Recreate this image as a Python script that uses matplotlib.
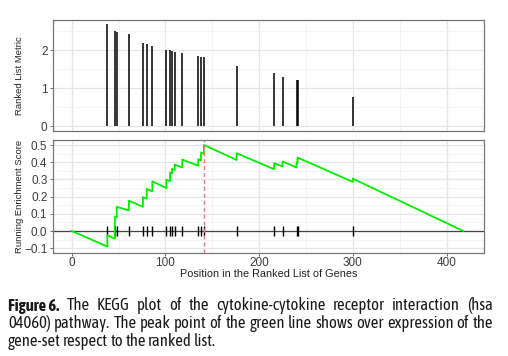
import numpy as np
import matplotlib
matplotlib.use("Agg")
import matplotlib.pyplot as plt
from matplotlib import font_manager
from matplotlib.ticker import MultipleLocator

# gene-set hits along the ranked list
hit_rank = [38, 46, 48, 61, 76, 80, 86, 101, 105, 107, 110, 118,
            135, 138, 141, 176, 216, 225, 240, 241, 300]
hit_metric = [2.68, 2.51, 2.47, 2.42, 2.19, 2.16, 2.10, 2.01, 1.99, 1.98, 1.96, 1.93,
              1.83, 1.82, 1.81, 1.58, 1.39, 1.30, 1.21, 1.20, 0.77]
# running enrichment score just before / after each hit
es_before = [-0.090, -0.044, 0.078, 0.120, 0.141, 0.188, 0.231, 0.250, 0.290, 0.336, 0.355, 0.370,
             0.380, 0.411, 0.450, 0.414, 0.360, 0.376, 0.370, 0.398, 0.286]
es_after = [-0.025, 0.083, 0.141, 0.177, 0.197, 0.245, 0.289, 0.299, 0.341, 0.362, 0.387, 0.416,
            0.418, 0.457, 0.501, 0.453, 0.395, 0.405, 0.400, 0.428, 0.305]
n_genes = 418
peak_rank = 141

cap_bold = "Figure 6."
cap_lines = [
    "The KEGG plot of the cytokine-cytokine receptor interaction (hsa",
    "04060) pathway. The peak point of the green line shows over expression of the",
    "gene-set respect to the ranked list.",
]

# condensed sans for the caption
names = {f.name for f in font_manager.fontManager.ttflist}
cap_props = dict(family=["DejaVu Sans"], stretch="condensed")
for fam in ["Asap Condensed", "Archivo Narrow"]:
    if fam in names:
        cap_props = dict(family=[fam, "DejaVu Sans"], stretch="condensed")
        break
plt.rcParams["font.family"] = ["Liberation Sans", "DejaVu Sans"]

W, H = 508, 356
fig = plt.figure(figsize=(W / 100, H / 100), dpi=100)
ax1 = fig.add_axes([53 / W, 1 - 131 / H, 431 / W, 111 / H])
ax2 = fig.add_axes([53 / W, 1 - 253 / H, 431 / W, 113 / H])

grid_major = "#e6e6e6"
grid_minor = "#f2f2f2"
for ax in (ax1, ax2):
    ax.set_xlim(-20, 440)
    ax.xaxis.set_major_locator(MultipleLocator(100))
    ax.xaxis.set_minor_locator(MultipleLocator(50))
    ax.grid(True, which="major", color=grid_major, lw=0.9)
    ax.grid(True, which="minor", color=grid_minor, lw=0.6)
    ax.set_axisbelow(True)
    for s in ax.spines.values():
        s.set_color("#777777")
        s.set_linewidth(0.9)
    ax.tick_params(which="both", colors="#555555", labelcolor="#3d3d3d",
                   labelsize=8.5, length=2.5, width=0.6, pad=1.5)
    ax.tick_params(which="minor", length=0)

# top: ranked list metric
ax1.vlines(hit_rank, 0, hit_metric, color="black", lw=1.1)
ax1.set_ylim(-0.13, 2.79)
ax1.yaxis.set_major_locator(MultipleLocator(1))
ax1.yaxis.set_minor_locator(MultipleLocator(0.5))
ax1.tick_params(axis="x", which="both", length=0, labelbottom=False)
ax1.set_ylabel("Ranked List Metric", fontsize=6.8, color="#222222")

# bottom: running enrichment score
xs, ys = [0], [0.0]
for r, b, a in zip(hit_rank, es_before, es_after):
    xs += [r, r]
    ys += [b, a]
xs.append(n_genes)
ys.append(0.0)
ax2.axhline(0, color="#444444", lw=0.9)
ax2.vlines(hit_rank, -0.03, 0.03, color="black", lw=1.0)
ax2.plot(xs, ys, color="#00ee00", lw=1.3)
ax2.axvline(peak_rank, color="#ee7b7b", lw=1.0, ls=(0, (3, 2)))
ax2.set_ylim(-0.128, 0.53)
ax2.yaxis.set_major_locator(MultipleLocator(0.1))
ax2.yaxis.set_minor_locator(MultipleLocator(0.05))
ax2.yaxis.set_major_formatter(lambda v, p: f"{v:.1f}".replace("-", "\u2212"))
ax2.tick_params(axis="x", pad=0.5)
ax2.set_ylabel("Running Enrichment Score", fontsize=6.8, color="#222222")
ax2.set_xlabel("Position in the Ranked List of Genes", fontsize=7.8, color="#222222", labelpad=0)
ax1.yaxis.set_label_coords(-0.068, 0.5)
ax2.yaxis.set_label_coords(-0.068, 0.5)

# caption, justified like the journal text
renderer = fig.canvas.get_renderer()


def text_w(s, size, bold=False):
    t = fig.text(0, 0, s, fontsize=size, fontweight="bold" if bold else "normal", **cap_props)
    w = t.get_window_extent(renderer).width
    t.remove()
    return w


left, right = 8, 493
# size so the first line fills the column with natural spacing
w10 = text_w(cap_bold, 10, True) + text_w("a a", 10) - text_w("aa", 10) + text_w(cap_lines[0], 10)
cap_size = min(12.0, 10 * (right - left - 4) / w10)

baselines = [310.5, 328.5, 346]
space = text_w("a a", cap_size) - text_w("aa", cap_size)
for i, (line, base) in enumerate(zip(cap_lines, baselines)):
    words = line.split()
    start = left
    if i == 0:
        fig.text(left / W, 1 - base / H, cap_bold, fontsize=cap_size, fontweight="bold",
                 color="#1a1a1a", va="baseline", **cap_props)
        start = left + text_w(cap_bold, cap_size, True) + space
    offs = [text_w(" ".join(words[:k + 1]), cap_size) - text_w(words[k], cap_size)
            for k in range(len(words))]
    natural = offs[-1] + text_w(words[-1], cap_size)
    n_gaps = len(words) - 1 + (1 if i == 0 else 0)
    extra = (right - start - natural) / n_gaps if i < len(cap_lines) - 1 else 0
    shift = extra if i == 0 else 0
    for k, w in enumerate(words):
        x = start + offs[k] + k * extra + shift
        fig.text(x / W, 1 - base / H, w, fontsize=cap_size, color="#1a1a1a",
                 va="baseline", **cap_props)

fig.savefig("out.png", dpi=100)
